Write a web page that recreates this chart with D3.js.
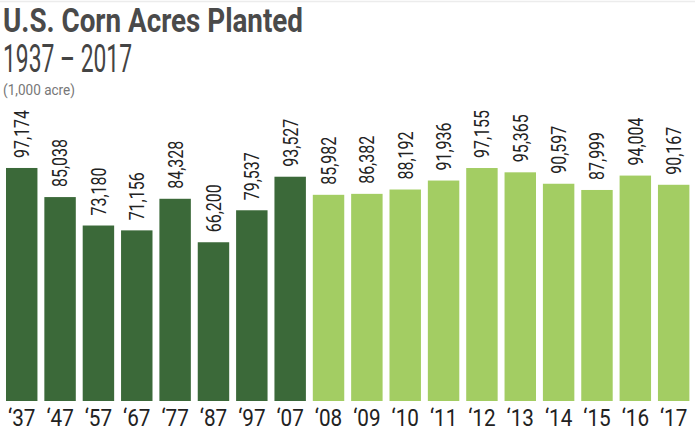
<!DOCTYPE html>
<html>
<head>
<meta charset="utf-8">
<script src="https://cdn.jsdelivr.net/npm/d3@7"></script>
<style>
  html, body { margin: 0; padding: 0; background: #fff; }
  svg { display: block; }
</style>
</head>
<body>
<div id="chart"></div>
<script>
const years = ["‘37","‘47","‘57","‘67","‘77","‘87","‘97","‘07","‘08","‘09","‘10","‘11","‘12","‘13","‘14","‘15","‘16","‘17"];
const acres = [97174,85038,73180,71156,84328,66200,79537,93527,85982,86382,88192,91936,97155,95365,90597,87999,94004,90167];
const group = ["old","old","old","old","old","old","old","old","new","new","new","new","new","new","new","new","new","new"];

const W = 695, H = 431;
const colors = { old: "#3b6939", new: "#a3cd63" };
const fmt = d3.format(",");

const svg = d3.select("#chart").append("svg").attr("width", W).attr("height", H);

svg.append("line").attr("x1", 0).attr("x2", W).attr("y1", 1.5).attr("y2", 1.5)
  .attr("stroke", "#ececec").attr("stroke-width", 1.5);

svg.append("text").attr("x", 3).attr("y", 32)
  .attr("font-family", "Roboto").attr("font-weight", 700).attr("font-size", 34)
  .attr("fill", "#4a4a4a").attr("textLength", 300).attr("lengthAdjust", "spacingAndGlyphs")
  .text("U.S. Corn Acres Planted");

svg.append("text").attr("x", 3).attr("y", 72)
  .attr("font-family", "Roboto").attr("font-weight", 400).attr("font-size", 38)
  .attr("fill", "#444").attr("textLength", 129).attr("lengthAdjust", "spacingAndGlyphs")
  .text("1937 – 2017");

svg.append("text").attr("x", 3).attr("y", 94.5)
  .attr("font-family", "Roboto").attr("font-weight", 400).attr("font-size", 15)
  .attr("fill", "#777").attr("textLength", 72).attr("lengthAdjust", "spacingAndGlyphs")
  .text("(1,000 acre)");

const x = d3.scaleBand().domain(years).range([6, 689.4]).paddingInner(0.18).paddingOuter(0);
const y = d3.scaleLinear().domain([0, 100000]).range([401, 161.2]);

const data = years.map((yr, i) => ({ yr, v: acres[i], g: group[i] }));

svg.append("g").selectAll("rect").data(data).join("rect")
  .attr("x", d => x(d.yr)).attr("width", x.bandwidth())
  .attr("y", d => y(d.v)).attr("height", d => y(0) - y(d.v))
  .attr("fill", d => colors[d.g]);

svg.append("g").selectAll("text").data(data).join("text")
  .attr("transform", d => `translate(${x(d.yr) + x.bandwidth() / 2},${y(d.v) - 10}) rotate(-90) scale(0.78,1)`)
  .attr("dy", "0.36em")
  .attr("font-family", "Roboto").attr("font-size", 20.5).attr("fill", "#222")
  .attr("text-anchor", "start")
  .text(d => fmt(d.v));

const xAxis = svg.append("g").attr("transform", `translate(0,${y(0)})`)
  .call(d3.axisBottom(x).tickSize(0).tickPadding(0));
xAxis.select(".domain").remove();
xAxis.selectAll(".tick text")
  .attr("font-family", "Roboto").attr("font-size", 23.5).attr("fill", "#222")
  .attr("dy", 0).attr("y", 25)
  .attr("transform", "scale(0.88,1)");
</script>
</body>
</html>
